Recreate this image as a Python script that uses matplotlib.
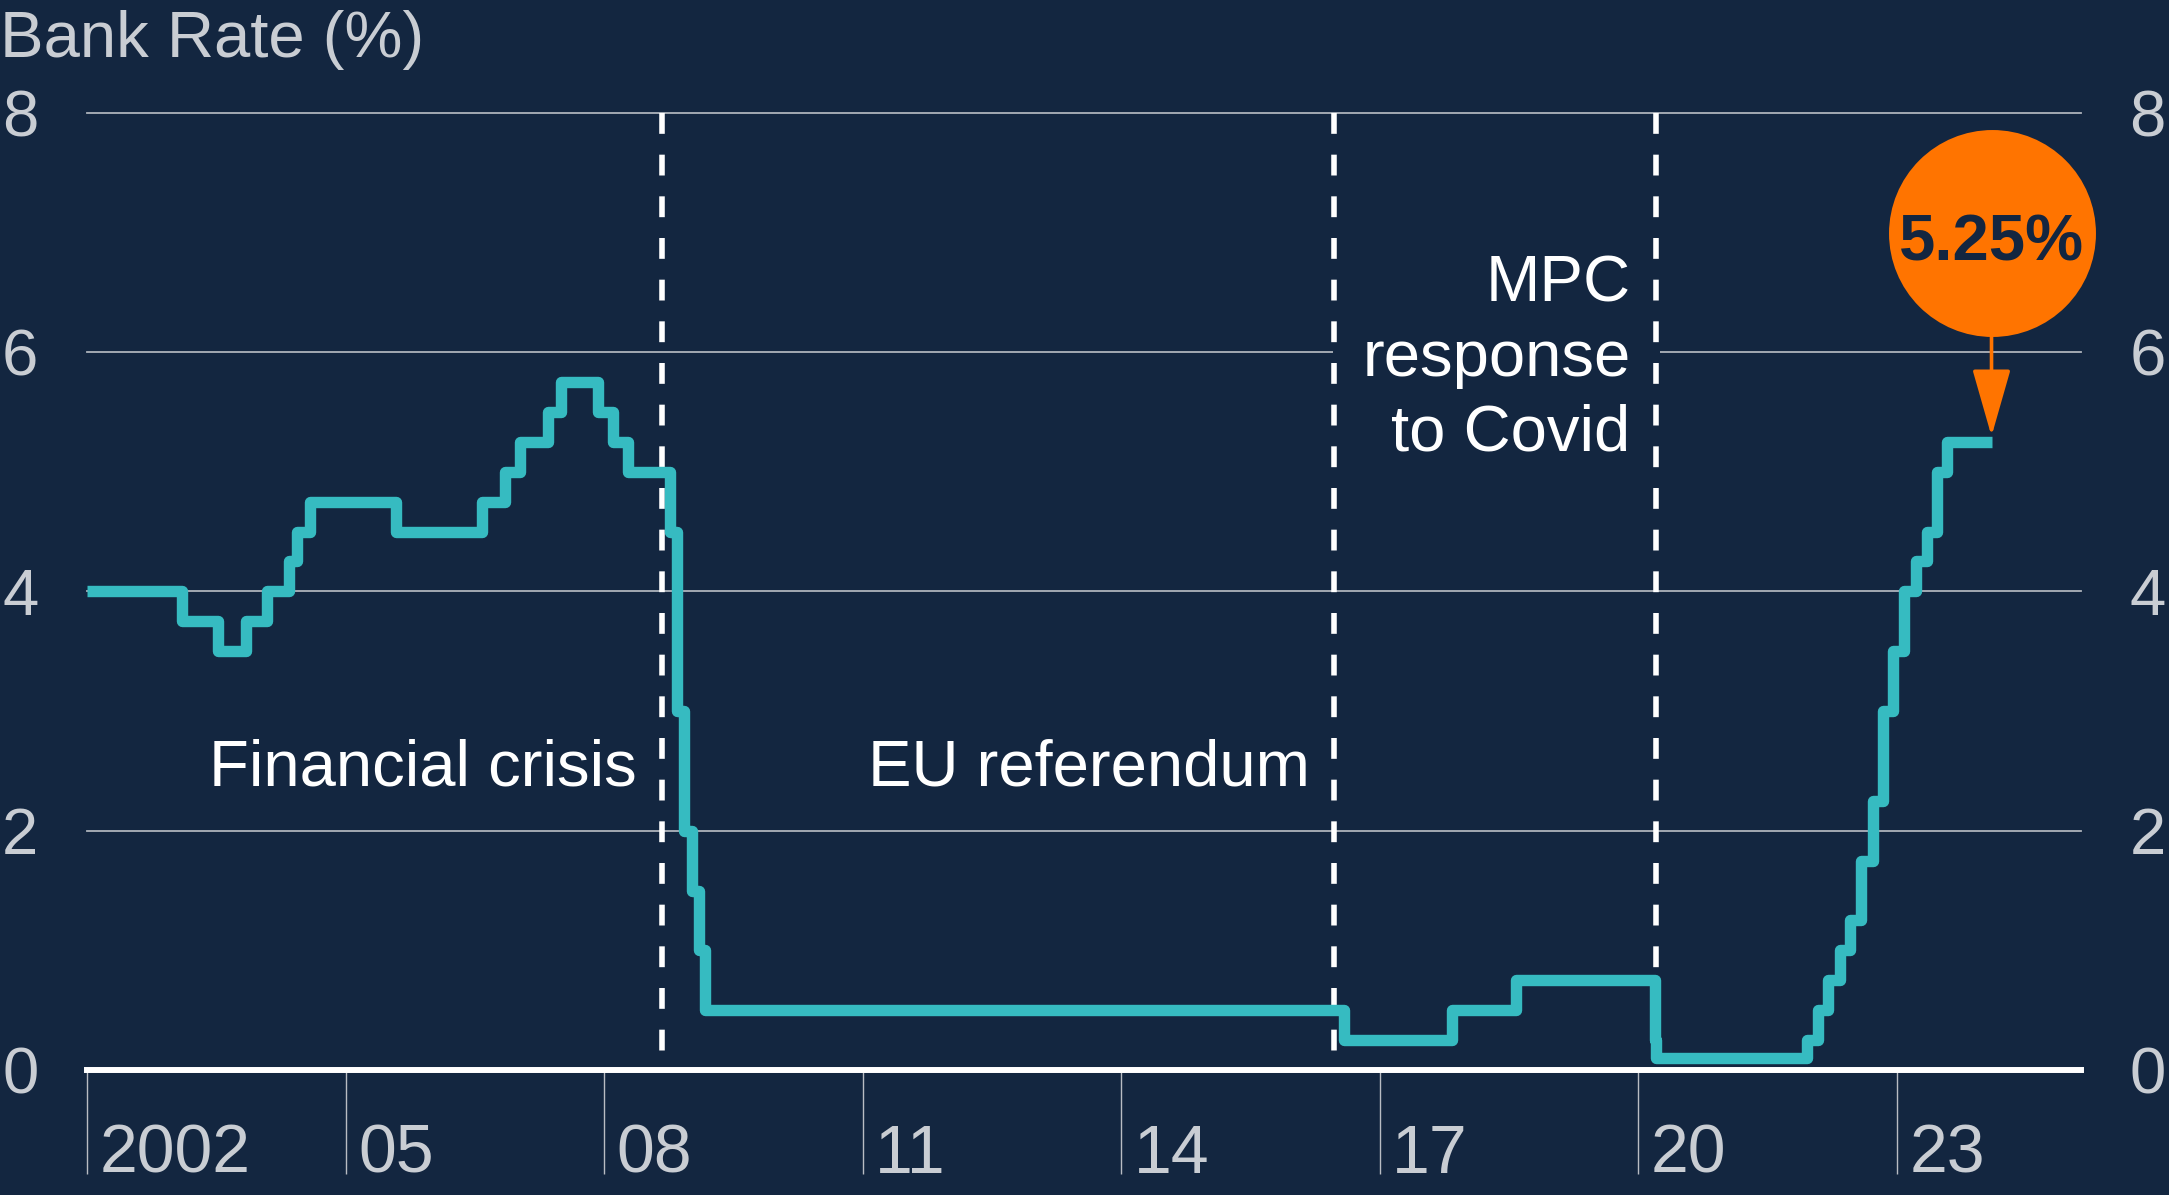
import numpy as np
import pandas as pd
import matplotlib
matplotlib.use('Agg')
import matplotlib.pyplot as plt
import matplotlib.dates as mdates

plt.rcParams['font.family'] = ['Liberation Sans', 'DejaVu Sans']

# bank rate changes (date the new rate took effect)
change_dates = ['2002-01-01', '2003-02-06', '2003-07-10', '2003-11-06', '2004-02-05',
                '2004-05-06', '2004-06-10', '2004-08-05', '2005-08-04', '2006-08-03',
                '2006-11-09', '2007-01-11', '2007-05-10', '2007-07-05', '2007-12-06',
                '2008-02-07', '2008-04-10', '2008-10-08', '2008-11-06', '2008-12-04',
                '2009-01-08', '2009-02-05', '2009-03-05', '2016-08-04', '2017-11-02',
                '2018-08-02', '2020-03-11', '2020-03-19', '2021-12-16', '2022-02-03',
                '2022-03-17', '2022-05-05', '2022-06-16', '2022-08-04', '2022-09-22',
                '2022-11-03', '2022-12-15', '2023-02-02', '2023-03-23', '2023-05-11',
                '2023-06-22', '2023-08-03', '2024-02-07']
rates = [4.0, 3.75, 3.5, 3.75, 4.0,
         4.25, 4.5, 4.75, 4.5, 4.75,
         5.0, 5.25, 5.5, 5.75, 5.5,
         5.25, 5.0, 4.5, 3.0, 2.0,
         1.5, 1.0, 0.5, 0.25, 0.5,
         0.75, 0.25, 0.1, 0.25, 0.5,
         0.75, 1.0, 1.25, 1.75, 2.25,
         3.0, 3.5, 4.0, 4.25, 4.5,
         5.0, 5.25, 5.25]

# events marked with dashed lines (label y = baseline of last text line)
event_dates = ['2008-09-01', '2016-06-23', '2020-03-15']
event_labels = ['Financial crisis', 'EU referendum', 'MPC\nresponse\nto Covid']
event_label_y = [2.38, 2.38, 5.18]

year_ticks = ['2002-01-01', '2005-01-01', '2008-01-01', '2011-01-01',
              '2014-01-01', '2017-01-01', '2020-01-01', '2023-01-01']
year_labels = ['2002', '05', '08', '11', '14', '17', '20', '23']
y_ticks = [0, 2, 4, 6, 8]
latest_label = '5.25%'

navy = '#132640'
teal = '#36bbc1'
orange = '#ff7400'
grey_text = '#c9cdd3'
grid_col = '#aeb3bb'

dates = mdates.date2num(pd.to_datetime(change_dates))
ev_dates = mdates.date2num(pd.to_datetime(event_dates))
yt_dates = mdates.date2num(pd.to_datetime(year_ticks))

fig = plt.figure(figsize=(21.69, 11.95), dpi=100, facecolor=navy)
ax = fig.add_axes([0.0401, 0.1046, 0.9193, 0.8011], facecolor=navy)

ax.set_xlim(mdates.date2num(pd.Timestamp('2002-01-01')),
            mdates.date2num(pd.Timestamp('2025-02-20')))
ax.set_ylim(0, 8)
for s in ax.spines.values():
    s.set_visible(False)

# grid lines
for y in y_ticks[1:]:
    ax.axhline(y, color=grid_col, lw=1.3, zorder=1, clip_on=False)
ax.axhline(0, color='white', lw=4.3, zorder=3, clip_on=False)

# y ticks on both sides
ax.set_yticks(y_ticks)
ax.tick_params(axis='y', length=0, pad=35, labelsize=47, labelcolor=grey_text,
               labelleft=True, labelright=True)

# x ticks: long lines with labels beside them
ax.set_xticks(yt_dates)
ax.tick_params(axis='x', length=75, width=1, color='#b8bcc3', direction='out',
               labelbottom=False)
for d, lab in zip(yt_dates, year_labels):
    ax.annotate(lab, xy=(d, 0), xycoords=ax.get_xaxis_transform(),
                xytext=(9, -74), textcoords='offset points',
                ha='left', va='baseline', fontsize=49, color=grey_text,
                annotation_clip=False)

# event lines and labels
for d, lab, ly in zip(ev_dates, event_labels, event_label_y):
    ax.plot([d, d], [8, 0], color='white', lw=4, dashes=(3.75, 3.75),
            zorder=3, clip_on=False)
    box = None
    if '\n' in lab:
        box = dict(boxstyle='square,pad=0.45', fc=navy, ec='none')
    ax.annotate(lab, xy=(d, ly), xytext=(-18, 0), textcoords='offset points',
                ha='right', va='baseline', ma='right', fontsize=47, color='white',
                linespacing=1.3, bbox=box, zorder=2)

# bank rate
ax.step(dates, rates, where='post', color=teal, lw=8.2, zorder=4,
        solid_joinstyle='round', solid_capstyle='butt')

# latest value bubble
end = dates[-1]
ax.annotate('', xy=(end, rates[-1]), xytext=(end, 7.0),
            arrowprops=dict(arrowstyle='-|>,head_length=42,head_width=12',
                            mutation_scale=1, color=orange, lw=2.6,
                            shrinkA=0, shrinkB=4), zorder=5)
ax.plot(end, 6.995, 'o', ms=149, color=orange, mec='none', zorder=6, clip_on=False)
ax.text(end, 6.765, latest_label, ha='center', va='baseline', fontsize=47,
        fontweight='bold', color=navy, zorder=7)

fig.text(0.0, 0.9523, 'Bank Rate (%)', fontsize=47, color=grey_text, va='baseline')

fig.savefig('out.png', dpi=100, facecolor=navy)
